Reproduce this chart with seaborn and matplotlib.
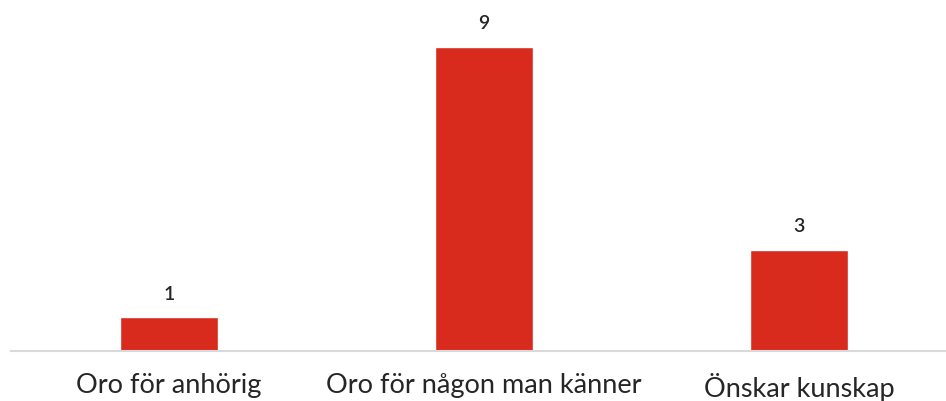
import seaborn as sns
import pandas as pd
import matplotlib.pyplot as plt

categories = ['Oro för anhörig', 'Oro för någon man känner', 'Önskar kunskap']
counts = [1, 9, 3]

data = pd.DataFrame({'Kategori': categories, 'Antal': counts})

sns.set_style('white')
plt.rcParams['font.family'] = ['Lato', 'DejaVu Sans']

fig = plt.figure(figsize=(9.46, 4.01), dpi=100)
ax = fig.add_axes([11 / 946, 0.1247, 935 / 946, 0.8753])
sns.barplot(x='Kategori', y='Antal', data=data, color='#D92A1E', width=0.314,
            saturation=1, errorbar=None, ax=ax)

ax.set_xlim(-(169 - 11) / 315, (946 - 169) / 315)
ax.set_ylim(0, 10.38)
ax.set_xlabel('')
ax.set_ylabel('')
ax.set_yticks([])
for side in ['top', 'right', 'left']:
    ax.spines[side].set_visible(False)
ax.spines['bottom'].set_color('#D9D9D9')
ax.spines['bottom'].set_linewidth(1.5)
ax.tick_params(axis='x', length=0, labelsize=19.5, pad=16)

for rect, v in zip(ax.patches, counts):
    ax.text(rect.get_x() + rect.get_width() / 2, rect.get_height() + 0.42, str(v),
            ha='center', va='bottom', fontsize=14, fontweight='semibold')

fig.savefig('out.png', dpi=100)
